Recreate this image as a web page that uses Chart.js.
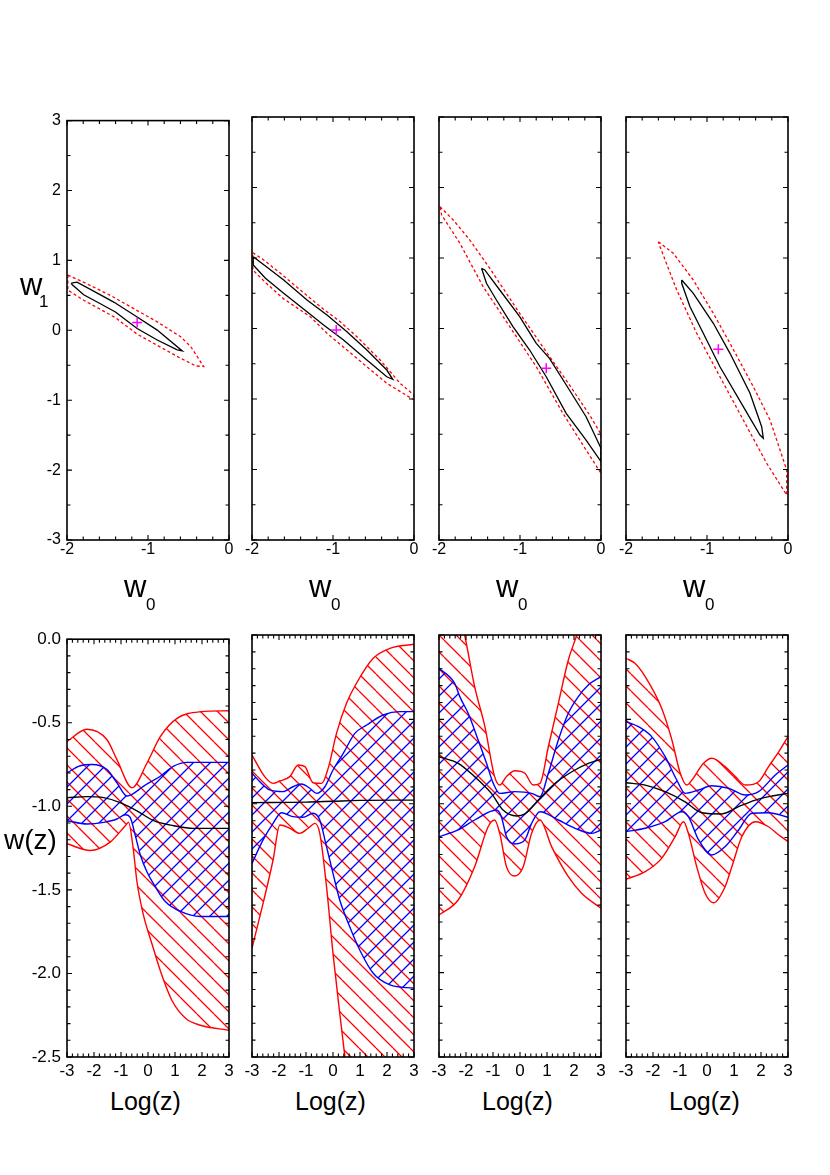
<!DOCTYPE html>
<html>
<head>
<meta charset="utf-8">
<script src="https://cdn.jsdelivr.net/npm/chart.js@4.4.0/dist/chart.umd.min.js"></script>
<style>
  body { margin: 0; background: #fff; }
  #page { position: relative; width: 830px; height: 1175px; font-family: "Liberation Sans", Arial, sans-serif; }
  #page canvas { position: absolute; }
  .lbl { position: absolute; line-height: 1; white-space: nowrap; color: #000; }
</style>
</head>
<body>
<div id="page"></div>
<script>
// ---- tick labels
const topXTicks = [-2, -1, 0];
const topYTicks = [-3, -2, -1, 0, 1, 2, 3];
const botXTicks = [-3, -2, -1, 0, 1, 2, 3];
const botYTicks = [0, -0.5, -1.0, -1.5, -2.0, -2.5];

// ---- top row: confidence contours in (w0, w1), points are [w0, w1]
const inner1 = [[-1.947,0.674],[-1.876,0.688],[-1.609,0.522],[-1.423,0.404],[-1.134,0.191],[-0.886,0.003],[-0.577,-0.295],
  [-0.639,-0.281],[-0.886,-0.139],[-1.134,0.026],[-1.402,0.262],[-1.588,0.380],[-1.794,0.508],[-1.938,0.655],[-1.947,0.674]];
const outer1 = [[-1.990,0.790],[-1.752,0.664],[-1.464,0.499],[-1.176,0.310],[-0.886,0.121],[-0.598,-0.092],[-0.472,-0.234],[-0.313,-0.518],
  [-0.410,-0.510],[-0.598,-0.400],[-0.886,-0.215],[-1.134,-0.055],[-1.402,0.180],[-1.588,0.300],[-1.794,0.430],[-1.990,0.575],[-1.990,0.790]];
const best1 = [-1.134, 0.111];

const inner2 = [[-1.985,1.018],[-1.834,0.887],[-1.609,0.688],[-1.321,0.404],[-1.074,0.191],[-0.828,-0.045],[-0.582,-0.305],[-0.336,-0.589],[-0.262,-0.721],
  [-0.336,-0.684],[-0.582,-0.447],[-0.870,-0.163],[-1.116,0.050],[-1.321,0.238],[-1.609,0.499],[-1.834,0.712],[-1.985,0.901],[-1.985,1.018]];
const outer2 = [[-1.990,1.075],[-1.855,0.972],[-1.649,0.783],[-1.403,0.546],[-1.157,0.309],[-0.911,0.096],[-0.705,-0.116],[-0.418,-0.447],[-0.172,-0.777],[0.0,-0.943],
  [0.0,-1.014],[-0.336,-0.777],[-0.582,-0.542],[-0.828,-0.305],[-1.074,-0.068],[-1.280,0.167],[-1.609,0.420],[-1.813,0.630],[-1.990,0.830],[-1.990,1.075]];
const best2 = [-0.960, -0.021];

const inner3 = [[-1.475,0.854],[-1.435,0.830],[-1.250,0.546],[-1.004,0.167],[-0.799,-0.210],[-0.636,-0.423],[-0.390,-0.872],[-0.184,-1.251],[0.0,-1.699],
  [0.0,-1.889],[-0.184,-1.582],[-0.430,-1.203],[-0.676,-0.684],[-0.881,-0.305],[-1.087,0.026],[-1.291,0.404],[-1.414,0.641],[-1.475,0.854]];
const outer3 = [[-1.988,1.728],[-1.824,1.539],[-1.619,1.255],[-1.373,0.854],[-1.004,0.215],[-0.676,-0.330],[-0.390,-0.800],[-0.144,-1.220],[0.0,-1.500],
  [0.0,-2.054],[-0.184,-1.723],[-0.472,-1.200],[-0.799,-0.542],[-1.127,0.026],[-1.455,0.593],[-1.742,1.209],[-1.967,1.610],[-1.988,1.728]];
const best3 = [-0.676, -0.565];

const inner4 = [[-1.312,0.688],[-1.169,0.499],[-0.922,0.074],[-0.716,-0.352],[-0.469,-0.919],[-0.325,-1.393],[-0.305,-1.557],
  [-0.346,-1.511],[-0.552,-1.109],[-0.840,-0.542],[-1.046,-0.068],[-1.210,0.309],[-1.312,0.641],[-1.312,0.688]];
const outer4 = [[-1.601,1.231],[-1.416,1.067],[-1.169,0.688],[-0.922,0.215],[-0.716,-0.210],[-0.428,-0.826],[-0.222,-1.298],[-0.016,-2.007],
  [-0.016,-2.362],[-0.263,-1.912],[-0.552,-1.298],[-0.840,-0.684],[-1.127,-0.068],[-1.374,0.546],[-1.580,1.160],[-1.601,1.231]];
const best4 = [-0.860, -0.295];

// ---- bottom row: w(z) bands vs Log(z)
const b1RedUpX = [-3,-2.26,-1.52,-1.15,-0.593,-0.037,0.456,1.074,1.94,3];
const b1RedUpY = [-0.612,-0.539,-0.602,-0.721,-0.889,-0.741,-0.583,-0.474,-0.434,-0.428];
const b1RedLoX = [-3,-2.14,-1.40,-0.84,-0.72,-0.55,-0.41,-0.17,0.16,0.46,0.889,1.40,1.94,3];
const b1RedLoY = [-1.224,-1.264,-1.214,-1.116,-1.096,-1.25,-1.45,-1.65,-1.83,-1.985,-2.162,-2.27,-2.31,-2.34];
const b1BlueUpX = [-3,-2.51,-2.07,-1.52,-1.15,-0.78,-0.59,-0.16,0.456,0.95,1.44,3];
const b1BlueUpY = [-0.800,-0.757,-0.750,-0.780,-0.859,-0.938,-0.928,-0.879,-0.820,-0.760,-0.737,-0.737];
const b1BlueLoX = [-3,-2.26,-1.64,-1.15,-0.84,-0.66,-0.47,-0.28,-0.04,0.27,0.64,1.20,1.94,3];
const b1BlueLoY = [-1.086,-1.106,-1.096,-1.076,-1.050,-1.066,-1.175,-1.293,-1.392,-1.481,-1.570,-1.629,-1.659,-1.659];
const b1MidX = [-3,-2.26,-1.64,-1.03,-0.41,0.21,0.95,1.69,3];
const b1MidY = [-0.948,-0.942,-0.948,-0.978,-1.027,-1.086,-1.116,-1.132,-1.132];

const b2RedUpX = [-3,-2.53,-2.22,-1.97,-1.60,-1.29,-1.04,-0.74,-0.42,-0.18,0.13,0.50,0.87,1.49,2.11,3];
const b2RedUpY = [-0.711,-0.839,-0.879,-0.865,-0.839,-0.770,-0.780,-0.875,-0.879,-0.790,-0.583,-0.405,-0.286,-0.138,-0.079,-0.055];
const b2RedLoX = [-3,-2.59,-2.22,-1.97,-1.60,-1.23,-0.92,-0.67,-0.49,-0.24,0.0,0.25,0.44,0.6,3];
const b2RedLoY = [-1.856,-1.590,-1.333,-1.126,-1.145,-1.175,-1.145,-1.116,-1.175,-1.491,-1.886,-2.241,-2.498,-2.7,-2.7];
const b2BlueUpX = [-3,-2.71,-2.34,-1.85,-1.48,-1.17,-0.86,-0.61,-0.30,0.0,0.38,0.81,1.25,1.86,2.48,3];
const b2BlueUpY = [-0.819,-0.869,-0.918,-0.928,-0.899,-0.883,-0.908,-0.938,-0.899,-0.800,-0.701,-0.583,-0.533,-0.474,-0.454,-0.454];
const b2BlueLoX = [-3,-2.59,-2.22,-1.91,-1.48,-1.11,-0.74,-0.49,-0.24,0.0,0.25,0.62,0.99,1.49,2.11,3];
const b2BlueLoY = [-1.353,-1.214,-1.116,-1.053,-1.076,-1.080,-1.056,-1.096,-1.254,-1.412,-1.570,-1.728,-1.866,-2.004,-2.073,-2.093];
const b2MidX = [-3,-1,0,1,3];
const b2MidY = [-0.993,-0.99,-0.985,-0.98,-0.978];

const b3RedUpX = [-3,-2.5,-2.05,-1.68,-1.30,-0.94,-0.75,-0.50,-0.19,0.18,0.49,0.74,1.05,1.42,1.79,2.10,2.6,3];
const b3RedUpY = [0.5,0.3,0.0,-0.306,-0.543,-0.839,-0.889,-0.839,-0.804,-0.819,-0.889,-0.879,-0.662,-0.405,-0.148,0.0,0.3,0.5];
const b3RedLoX = [-3,-2.29,-1.68,-1.18,-0.94,-0.75,-0.50,-0.19,0.12,0.43,0.74,1.17,1.79,2.28,3];
const b3RedLoY = [-1.659,-1.570,-1.373,-1.136,-1.096,-1.175,-1.373,-1.428,-1.373,-1.175,-1.096,-1.254,-1.432,-1.530,-1.619];
const b3BlueUpX = [-3,-2.42,-2.23,-1.92,-1.55,-1.24,-0.99,-0.75,-0.19,0.43,0.74,1.05,1.42,1.79,2.16,2.53,3];
const b3BlueUpY = [-0.197,-0.286,-0.365,-0.464,-0.622,-0.760,-0.879,-0.938,-0.928,-0.938,-0.958,-0.819,-0.622,-0.464,-0.365,-0.296,-0.247];
const b3BlueLoX = [-3,-2.29,-1.68,-0.87,-0.69,-0.50,-0.19,0.18,0.43,0.74,1.42,2.04,2.66,3];
const b3BlueLoY = [-1.195,-1.155,-1.096,-1.037,-1.076,-1.195,-1.238,-1.214,-1.116,-1.047,-1.096,-1.145,-1.175,-1.155];
const b3MidX = [-3,-2.29,-1.68,-1.06,-0.63,-0.13,0.18,0.74,1.30,1.92,2.53,3];
const b3MidY = [-0.721,-0.760,-0.839,-0.938,-1.037,-1.072,-1.060,-0.967,-0.879,-0.810,-0.760,-0.737];

const b4RedUpX = [-3,-2.67,-2.29,-1.68,-1.30,-0.99,-0.75,-0.56,-0.13,0.18,0.67,1.05,1.42,1.91,2.28,2.66,3];
const b4RedUpY = [-0.138,-0.168,-0.247,-0.434,-0.622,-0.819,-0.889,-0.859,-0.760,-0.730,-0.780,-0.839,-0.889,-0.869,-0.780,-0.691,-0.602];
const b4RedLoX = [-3,-2.29,-1.68,-1.18,-0.87,-0.69,-0.38,-0.07,0.24,0.67,0.92,1.29,1.79,2.28,2.66,3];
const b4RedLoY = [-1.447,-1.402,-1.323,-1.195,-1.106,-1.175,-1.373,-1.530,-1.586,-1.491,-1.373,-1.195,-1.106,-1.136,-1.185,-1.224];
const b4BlueUpX = [-3,-2.54,-2.05,-1.55,-1.12,-0.81,-0.31,0.18,0.80,1.42,1.91,2.53,3];
const b4BlueUpY = [-0.513,-0.543,-0.602,-0.721,-0.859,-0.938,-0.918,-0.893,-0.908,-0.948,-0.928,-0.829,-0.770];
const b4BlueLoX = [-3,-2.29,-1.55,-0.93,-0.69,-0.31,0.18,0.67,1.17,1.66,2.28,3];
const b4BlueLoY = [-1.165,-1.145,-1.106,-1.047,-1.076,-1.214,-1.303,-1.254,-1.155,-1.056,-1.053,-1.080];
const b4MidX = [-3,-2.29,-1.55,-0.81,-0.19,0.55,1.17,1.79,2.41,3];
const b4MidY = [-0.875,-0.889,-0.928,-0.988,-1.053,-1.060,-1.017,-0.978,-0.954,-0.938];

const FONT = '"Liberation Sans", Arial, sans-serif';
const colLeft = [67, 252, 439, 626];
const plotW = 162;
const page = document.getElementById('page');

const pts = arr => arr.map(p => ({ x: p[0], y: p[1] }));
const zip = (xs, ys) => xs.map((x, i) => ({ x: x, y: ys[i] }));

// inward ticks on all four sides + frame
const frame = {
  id: 'frame',
  afterDatasetsDraw(chart, args, o) {
    const { ctx, chartArea: a } = chart;
    const sx = chart.scales.x, sy = chart.scales.y;
    ctx.save();
    ctx.strokeStyle = '#000';
    ctx.lineWidth = 1.1;
    ctx.beginPath();
    const mark = (scale, minor, major, horiz) => {
      const n = Math.round((scale.max - scale.min) / minor);
      for (let i = 0; i <= n; i++) {
        const v = scale.min + i * minor;
        const len = Math.abs(v / major - Math.round(v / major)) < 1e-6 ? 5 : 3.5;
        const p = scale.getPixelForValue(v);
        if (horiz) {
          ctx.moveTo(p, a.bottom); ctx.lineTo(p, a.bottom - len);
          ctx.moveTo(p, a.top); ctx.lineTo(p, a.top + len);
        } else {
          ctx.moveTo(a.left, p); ctx.lineTo(a.left + len, p);
          ctx.moveTo(a.right, p); ctx.lineTo(a.right - len, p);
        }
      }
    };
    mark(sx, o.xMinor, o.xMajor, true);
    mark(sy, o.yMinor, o.yMajor, false);
    ctx.stroke();
    ctx.lineWidth = 1.6;
    ctx.strokeRect(a.left, a.top, a.right - a.left, a.bottom - a.top);
    ctx.restore();
  }
};

function makeCanvas(col, top, h, lw) {
  const R = 12, T = 12, B = 30;
  const c = document.createElement('canvas');
  c.width = lw + plotW + R;
  c.height = T + h + B;
  c.style.left = (colLeft[col] - lw) + 'px';
  c.style.top = (top - T) + 'px';
  c.style.width = c.width + 'px';
  c.style.height = c.height + 'px';
  page.appendChild(c);
  return { c, pad: { left: 0, top: T, right: R, bottom: 0 }, lw, B };
}

function hatch(ctx, color, slash) {
  const P = 17;
  const t = document.createElement('canvas');
  t.width = P; t.height = P;
  const g = t.getContext('2d');
  g.strokeStyle = color;
  g.lineWidth = 1.3;
  g.beginPath();
  for (let k = -1; k <= 1; k++) {
    if (slash) { g.moveTo(k * P, P); g.lineTo(k * P + P, 0); }
    else { g.moveTo(k * P, 0); g.lineTo(k * P + P, P); }
  }
  g.stroke();
  return ctx.createPattern(t, 'repeat');
}

function axes(cv, xr, yr, xt, yt, xFont, yFont, xPad, showY, yFmt) {
  return {
    x: {
      type: 'linear', min: xr[0], max: xr[1],
      grid: { display: false, drawTicks: false }, border: { display: false },
      ticks: { font: { family: FONT, size: xFont }, color: '#000', padding: xPad, maxRotation: 0, autoSkip: false },
      afterBuildTicks: s => { s.ticks = xt.map(v => ({ value: v })); },
      afterFit: s => { s.height = cv.B; }
    },
    y: {
      type: 'linear', min: yr[0], max: yr[1],
      grid: { display: false, drawTicks: false }, border: { display: false },
      ticks: { display: showY, font: { family: FONT, size: yFont }, color: '#000', padding: 6, autoSkip: false, callback: yFmt },
      afterBuildTicks: s => { s.ticks = yt.map(v => ({ value: v })); },
      afterFit: s => { s.width = cv.lw; }
    }
  };
}

const inners = [inner1, inner2, inner3, inner4];
const outers = [outer1, outer2, outer3, outer4];
const bests = [best1, best2, best3, best4];

inners.forEach((inner, i) => {
  const cv = makeCanvas(i, 117, 423, i === 0 ? 40 : 12);
  new Chart(cv.c, {
    type: 'scatter',
    data: {
      datasets: [
        { data: [{ x: bests[i][0], y: bests[i][1] }], showLine: false, pointStyle: 'cross', pointRadius: 5,
          pointBorderColor: '#ff00ff', pointBorderWidth: 1.5, borderColor: '#ff00ff' },
        { data: pts(inner), showLine: true, borderColor: '#000', borderWidth: 1.3, pointRadius: 0, tension: 0 },
        { data: pts(outers[i]), showLine: true, borderColor: '#ff0000', borderWidth: 1.3, borderDash: [3, 2.5], pointRadius: 0, tension: 0 }
      ]
    },
    options: {
      responsive: false, animation: false, events: [],
      layout: { padding: cv.pad, autoPadding: false },
      scales: axes(cv, [-2, 0], [-3, 3], topXTicks, topYTicks, 16, 16, 0, i === 0, v => v),
      plugins: { legend: { display: false }, tooltip: { enabled: false },
        frame: { xMinor: 0.2, xMajor: 1, yMinor: 0.5, yMajor: 1 } }
    },
    plugins: [frame]
  });
});

const bands = [
  [b1RedUpX, b1RedUpY, b1RedLoX, b1RedLoY, b1BlueUpX, b1BlueUpY, b1BlueLoX, b1BlueLoY, b1MidX, b1MidY],
  [b2RedUpX, b2RedUpY, b2RedLoX, b2RedLoY, b2BlueUpX, b2BlueUpY, b2BlueLoX, b2BlueLoY, b2MidX, b2MidY],
  [b3RedUpX, b3RedUpY, b3RedLoX, b3RedLoY, b3BlueUpX, b3BlueUpY, b3BlueLoX, b3BlueLoY, b3MidX, b3MidY],
  [b4RedUpX, b4RedUpY, b4RedLoX, b4RedLoY, b4BlueUpX, b4BlueUpY, b4BlueLoX, b4BlueLoY, b4MidX, b4MidY]
];

bands.forEach((b, i) => {
  const cv = makeCanvas(i, 635, 422, i === 0 ? 40 : 12);
  const ctx = cv.c.getContext('2d');
  const line = { pointRadius: 0, borderWidth: 1.4, cubicInterpolationMode: 'monotone' };
  new Chart(cv.c, {
    type: 'line',
    data: {
      datasets: [
        { ...line, data: zip(b[0], b[1]), borderColor: '#ff0000', fill: 1, backgroundColor: hatch(ctx, '#ff0000', false), order: 5 },
        { ...line, data: zip(b[2], b[3]), borderColor: '#ff0000', fill: false, order: 4 },
        { ...line, data: zip(b[4], b[5]), borderColor: '#0000ff', fill: 3, backgroundColor: hatch(ctx, '#0000ff', true), order: 3 },
        { ...line, data: zip(b[6], b[7]), borderColor: '#0000ff', fill: false, order: 2 },
        { ...line, data: zip(b[8], b[9]), borderColor: '#000', fill: false, order: 1 }
      ]
    },
    options: {
      responsive: false, animation: false, events: [],
      layout: { padding: cv.pad, autoPadding: false },
      scales: axes(cv, [-3, 3], [-2.5, 0], botXTicks, botYTicks, 17, 17, 4, i === 0, v => v.toFixed(1)),
      plugins: { legend: { display: false }, tooltip: { enabled: false },
        frame: { xMinor: 0.2, xMajor: 1, yMinor: 0.1, yMajor: 0.5 } }
    },
    plugins: [frame]
  });
});

// axis titles as html text
function label(text, left, top, size) {
  const d = document.createElement('div');
  d.className = 'lbl';
  d.textContent = text;
  d.style.left = left + 'px';
  d.style.top = top + 'px';
  d.style.fontSize = size + 'px';
  page.appendChild(d);
}
label('w', 20, 269, 31);
label('1', 39, 293, 17);
label('w(z)', 4, 826, 28);
colLeft.forEach(l => {
  label('w', l + 57, 571, 31);
  label('0', l + 79, 596, 17);
  label('Log(z)', l + 43, 1089, 25);
});
</script>
</body>
</html>
